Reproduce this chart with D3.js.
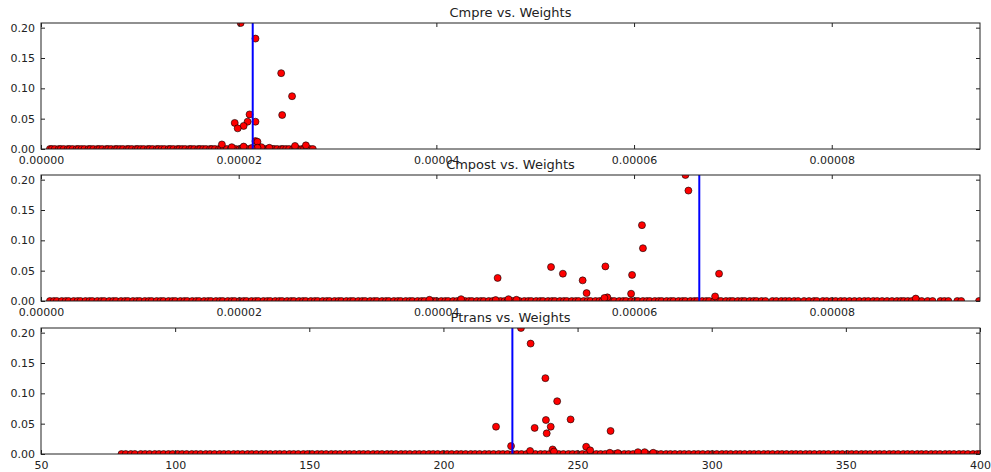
<!DOCTYPE html>
<html><head><meta charset="utf-8">
<script src="https://cdn.jsdelivr.net/npm/d3@7"></script>
<style>body{margin:0;background:#fff}svg{display:block}text{font-family:"DejaVu Sans",sans-serif;fill:#222}</style>
</head><body><svg id="c" width="991" height="472"></svg>
<script>
// Titles
const titles = ["Cmpre vs. Weights", "Cmpost vs. Weights", "Ptrans vs. Weights"];
// Nonzero weights (y values), shared by all three panels
const weights = [0.2077, 0.182, 0.125, 0.087, 0.057, 0.056, 0.045, 0.045, 0.043, 0.038, 0.034, 0.013, 0.012, 0.0075, 0.006, 0.005, 0.004, 0.003, 0.003, 0.002, 0.002, 0.0015];
// x values of the weighted points (Cmpre, Cmpost in units of 1e-7)
const cmpre  = [202, 217, 243, 254, 211, 244, 209, 217, 196, 205, 199, 217, 219, 183, 268, 257, 205, 193, 223, 231, 219, 213];
const cmpost = [652, 655, 608, 609, 571, 516, 528, 686, 598, 462, 548, 552, 597, 682, 573, 570, 885, 425, 473, 393, 481, 460];
const ptrans = [228.9, 232.5, 238.0, 242.4, 247.4, 238.2, 219.6, 240.0, 234.0, 262.3, 238.5, 225.2, 253.2, 240.7, 254.7, 232.3, 241.2, 272.5, 275, 278.2, 262, 265];
// x values of zero-weight points
const zeroCmpre = [9, 11, 14, 18, 20, 23, 27, 29, 32, 36, 38, 41, 44, 48, 50, 53, 57, 59, 62, 66, 68, 71, 75, 77, 80, 83, 87, 89, 92, 96, 98, 101, 104, 108, 110, 113, 117, 119, 122, 125, 129, 131, 134, 138, 140, 143, 146, 150, 152, 155, 159, 161, 164, 167, 171, 173, 176, 180, 182, 185, 188, 192, 194, 197, 201, 203, 206, 209, 213, 215, 218, 222, 224, 227, 230, 234, 236, 239, 243, 245, 248, 251, 255, 257, 260, 264, 266, 269, 272, 275];
const zeroCmpost = [9, 13, 16, 21, 25, 28, 33, 37, 40, 45, 49, 52, 57, 61, 64, 69, 73, 76, 81, 85, 88, 93, 97, 100, 105, 109, 112, 117, 121, 124, 129, 133, 136, 141, 145, 148, 153, 157, 160, 165, 169, 172, 177, 181, 184, 189, 193, 196, 201, 205, 208, 213, 217, 220, 225, 229, 232, 237, 241, 244, 249, 253, 256, 261, 265, 268, 273, 277, 280, 285, 289, 292, 297, 301, 304, 309, 313, 316, 321, 325, 328, 333, 337, 340, 345, 349, 352, 357, 361, 364, 369, 373, 376, 381, 385, 388, 393, 397, 400, 405, 409, 412, 417, 421, 424, 429, 433, 436, 441, 445, 448, 453, 457, 460, 465, 469, 472, 477, 481, 484, 489, 493, 496, 501, 505, 508, 513, 517, 520, 525, 529, 532, 537, 541, 544, 549, 553, 556, 561, 565, 568, 573, 577, 580, 585, 589, 592, 597, 601, 604, 609, 613, 616, 621, 625, 628, 633, 637, 640, 645, 649, 652, 657, 661, 664, 669, 673, 676, 681, 685, 688, 693, 697, 700, 705, 709, 712, 717, 721, 724, 729, 733, 740, 744, 749, 753, 757, 762, 766, 772, 777, 782, 785, 791, 795, 800, 804, 809, 813, 818, 823, 828, 833, 837, 842, 846, 851, 856, 861, 866, 870, 873, 877, 881, 887, 891, 897, 902, 910, 914, 918, 927, 931, 949];
const zeroPtrans = [80, 81.6, 83.5, 85, 87.2, 88.8, 90.5, 92.4, 94, 95.7, 97.5, 99.1, 101, 102.6, 104.3, 106.2, 107.8, 109.5, 111.4, 113, 114.7, 116.6, 118.2, 119.9, 121.8, 123.4, 125.1, 127, 128.6, 130.3, 132.2, 133.8, 135.5, 137.4, 139, 140.7, 142.6, 144.2, 145.9, 147.8, 149.4, 151.1, 153, 154.6, 156.3, 158.2, 159.8, 161.5, 163.4, 165, 166.7, 168.6, 170.2, 171.9, 173.8, 175.4, 177.1, 179, 180.6, 182.3, 184.2, 185.8, 187.5, 189.4, 191, 192.7, 194.6, 196.2, 197.9, 199.8, 201.4, 203.1, 205, 206.6, 208.3, 210.2, 211.8, 213.5, 215.4, 217, 218.7, 220.6, 222.2, 223.9, 225.8, 227.4, 229.1, 231, 232.6, 234.3, 236.2, 237.8, 239.5, 241.4, 243, 244.7, 246.6, 248.2, 249.9, 251.8, 253.4, 255.1, 257, 258.6, 260.3, 262.2, 263.8, 265.5, 267.4, 269, 270.7, 272.6, 274.2, 275.9, 277.8, 279.4, 281.1, 283, 284.6, 286.3, 288.2, 289.8, 291.5, 293.4, 295, 296.7, 298.6, 300.2, 301.9, 303.8, 305.4, 307.1, 309, 310.6, 312.3, 314.2, 315.8, 317.5, 319.4, 321, 322.7, 324.6, 326.2, 327.9, 329.8, 331.4, 333.1, 335, 336.6, 338.3, 340.2, 341.8, 343.5, 345.4, 347, 348.7, 350.6, 352.2, 353.9, 355.8, 357.4, 359.1, 361, 362.6, 364.3, 366.2, 367.8, 369.5, 371.4, 373, 374.7, 376.6, 378.2, 379.9, 381.8, 383.4, 385.1, 387, 388.6, 390.3, 392.2, 393.8, 395.5, 397.4, 399, 400];
// Weighted means (vertical lines)
const means = [214.2, 666, 225.7];
// Axis settings
const xDomains = [[0, 950], [0, 950], [50, 400]];
const xUnits = [1e-7, 1e-7, 1];
const cmTicks = [0, 0.00002, 0.00004, 0.00006, 0.00008];
const ptTicks = [50, 100, 150, 200, 250, 300, 350, 400];
const yTicks = [0, 0.05, 0.10, 0.15, 0.20];
const yMax = 0.2077;

const svg = d3.select("#c");
const L = 41, R = 980, H = 126;
const tops = [23, 175, 328];
const xs = [cmpre, cmpost, ptrans];
const zs = [zeroCmpre, zeroCmpost, zeroPtrans];

tops.forEach((top, i) => {
  const u = xUnits[i];
  const x = d3.scaleLinear().domain([xDomains[i][0]*u, xDomains[i][1]*u]).range([L, R]);
  const y = d3.scaleLinear().domain([0, yMax]).range([top + H, top]);
  const g = svg.append("g");
  const cid = "clip" + i;
  g.append("clipPath").attr("id", cid).append("rect").attr("x", L).attr("y", top).attr("width", R - L).attr("height", H);

  const pts = zs[i].map(v => ({x: v*u, y: 0})).concat(xs[i].map((v, k) => ({x: v*u, y: weights[k]})));
  const pg = g.append("g").attr("clip-path", `url(#${cid})`);
  pg.selectAll("circle").data(pts).join("circle")
    .attr("cx", d => x(d.x)).attr("cy", d => y(d.y)).attr("r", 3.5)
    .attr("fill", "#ff0000").attr("stroke", "#000").attr("stroke-width", 0.6);
  pg.append("line").attr("x1", x(means[i]*u)).attr("x2", x(means[i]*u))
    .attr("y1", top).attr("y2", top + H).attr("stroke", "#0000ff").attr("stroke-width", 2);

  const ticks = i < 2 ? cmTicks : ptTicks;
  const fmt = i < 2 ? d3.format(".5f") : d3.format("d");
  const xb = d3.axisBottom(x).tickValues(ticks).tickFormat(fmt).tickSizeInner(-4).tickSizeOuter(0).tickPadding(7);
  const xt = d3.axisTop(x).tickValues(ticks).tickFormat("").tickSizeInner(-4).tickSizeOuter(0);
  const yl = d3.axisLeft(y).tickValues(yTicks).tickFormat(d3.format(".2f")).tickSizeInner(-4).tickSizeOuter(0).tickPadding(6);
  const yr = d3.axisRight(y).tickValues(yTicks).tickFormat("").tickSizeInner(-4).tickSizeOuter(0);
  const ax = [
    g.append("g").attr("transform", `translate(0,${top + H})`).call(xb),
    g.append("g").attr("transform", `translate(0,${top})`).call(xt),
    g.append("g").attr("transform", `translate(${L},0)`).call(yl),
    g.append("g").attr("transform", `translate(${R},0)`).call(yr)
  ];
  ax.forEach(a => {
    a.select(".domain").remove();
    a.selectAll("line").attr("stroke", "#222");
    a.selectAll("text").attr("font-size", 11).attr("fill", "#222").attr("font-family", "DejaVu Sans");
  });
  g.append("rect").attr("x", L).attr("y", top).attr("width", R - L).attr("height", H)
    .attr("fill", "none").attr("stroke", "#222").attr("stroke-width", 1);
  g.append("text").attr("x", (L + R) / 2).attr("y", top - 6).attr("text-anchor", "middle")
    .attr("font-size", 13).text(titles[i]);
});
</script></body></html>
